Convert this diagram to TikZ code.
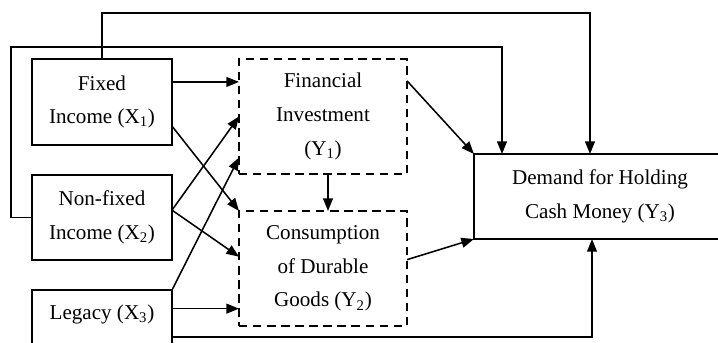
\documentclass[tikz,border=0pt]{standalone}
\usepackage{fontspec}
\setmainfont{Liberation Serif}
\usetikzlibrary{arrows.meta, positioning}

\begin{document}
\begin{tikzpicture}[
  every node/.style={align=center, font=\fontsize{15}{24}\selectfont, outer sep=0pt},
  % Independent variables
  xbox/.style={rectangle, draw=black, line width=1.1pt, minimum width=3.5cm},
  % Mediating variables
  ybox/.style={rectangle, draw=black, line width=1.1pt, dash pattern=on 6pt off 4pt, minimum width=4.2cm, minimum height=2.875cm},
  % Dependent variable
  dbox/.style={rectangle, draw=black, line width=1.1pt, minimum width=6.3cm, minimum height=2.125cm},
  % Edges
  arr/.style={line width=1.1pt, -{Triangle[length=9pt, width=7pt]}}
]

\clip (0, 0) rectangle (17.95, 8.575);

% === Independent variables ===
\node[xbox, minimum height=2.15cm] (x1) at (2.55, 6.025) {Fixed\\Income (X\textsubscript{1})};
\node[xbox, minimum height=2.125cm] (x2) at (2.55, 3.1375) {Non-fixed\\Income (X\textsubscript{2})};
\node[xbox, minimum height=1.55cm, text height=10pt, text depth=11.5pt] (x3) at (2.55, 0.55) {Legacy (X\textsubscript{3})};

% === Mediating variables ===
\node[ybox] (y1) at (8.075, 5.6625) {Financial\\Investment\\(Y\textsubscript{1})};
\node[ybox] (y2) at (8.075, 1.8625) {Consumption\\of Durable\\Goods (Y\textsubscript{2})};

% === Dependent variable ===
\node[dbox] (y3) at (15.0, 3.6625) {Demand for Holding\\Cash Money (Y\textsubscript{3})};

% Edges: X -> Y1, Y2
\draw[arr] (x1.16) -- (x1.16 -| y1.west);
\draw[arr] (x1.-19) -- (y2.north west);
\draw[arr] (x2.6) -- (y1.west);
\draw[arr] (x2.6) -- (y2.172);
\draw[arr] (x3.north east) -- (y1.206);
\draw[arr] (x3.10) -- (x3.10 -| y2.west);

% Edges: Y1 -> Y2
\draw[arr] ([xshift=0.125cm]y1.south) -- ([xshift=0.125cm]y2.north);

% Edges: Y1, Y2 -> Y3
\draw[arr] (y1.23) -- (y3.north west);
\draw[arr] (y2.6) -- (y3.south west);

% Edges: X -> Y3 (direct)
\draw[arr] (x1.north) -- ++(0, 1.15) -| ([xshift=-0.25cm]y3.north);
\draw[arr] (x2.west) -- ++(-0.525, 0) -- ++(0, 4.2625) -| ([xshift=0.7cm]y3.north west);
\draw[arr] ([yshift=-0.4cm]x3.east) -| ([xshift=-0.2cm]y3.south);

\end{tikzpicture}
\end{document}
